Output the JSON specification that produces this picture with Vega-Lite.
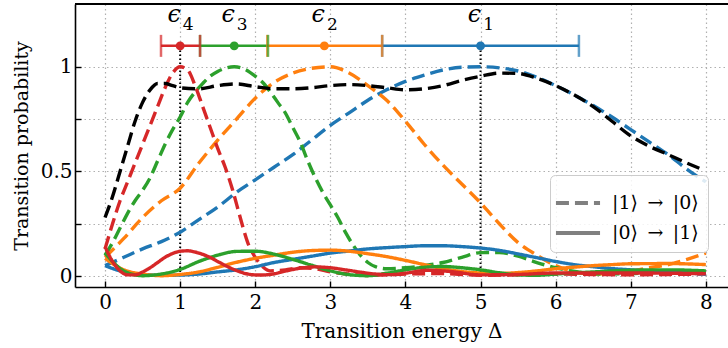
{
  "$schema": "https://vega.github.io/schema/vega-lite/v6.json",
  "width": 653,
  "height": 283,
  "autosize": {"type": "none"},
  "padding": {"left": 75, "top": 4, "right": 0, "bottom": 61},
  "config": {
    "font": "DejaVu Serif",
    "view": {"stroke": null},
    "axis": {
      "domain": true,
      "domainColor": "black",
      "domainWidth": 1.6,
      "grid": true,
      "gridColor": "#b0b0b0",
      "gridDash": [1.5, 3],
      "gridWidth": 1.2,
      "tickColor": "black",
      "tickWidth": 1.4,
      "tickSize": -6,
      "labelFontSize": 20,
      "labelColor": "black",
      "titleFontSize": 20,
      "titleFontWeight": "normal",
      "titleColor": "black",
      "labelFont": "DejaVu Serif",
      "titleFont": "DejaVu Serif"
    }
  },
  "datasets": {
    "curves": [
      {"series": "ε1", "kind": "|1⟩ → |0⟩", "x": 0, "y": 0.05},
      {"series": "ε1", "kind": "|1⟩ → |0⟩", "x": 0.25, "y": 0.09},
      {"series": "ε1", "kind": "|1⟩ → |0⟩", "x": 0.5, "y": 0.13},
      {"series": "ε1", "kind": "|1⟩ → |0⟩", "x": 0.75, "y": 0.165},
      {"series": "ε1", "kind": "|1⟩ → |0⟩", "x": 1.0, "y": 0.21},
      {"series": "ε1", "kind": "|1⟩ → |0⟩", "x": 1.25, "y": 0.27},
      {"series": "ε1", "kind": "|1⟩ → |0⟩", "x": 1.5, "y": 0.33},
      {"series": "ε1", "kind": "|1⟩ → |0⟩", "x": 1.75, "y": 0.4},
      {"series": "ε1", "kind": "|1⟩ → |0⟩", "x": 2.0, "y": 0.46},
      {"series": "ε1", "kind": "|1⟩ → |0⟩", "x": 2.25, "y": 0.52},
      {"series": "ε1", "kind": "|1⟩ → |0⟩", "x": 2.5, "y": 0.58},
      {"series": "ε1", "kind": "|1⟩ → |0⟩", "x": 2.75, "y": 0.65},
      {"series": "ε1", "kind": "|1⟩ → |0⟩", "x": 3.0, "y": 0.72},
      {"series": "ε1", "kind": "|1⟩ → |0⟩", "x": 3.25, "y": 0.78},
      {"series": "ε1", "kind": "|1⟩ → |0⟩", "x": 3.5, "y": 0.84},
      {"series": "ε1", "kind": "|1⟩ → |0⟩", "x": 3.75, "y": 0.89},
      {"series": "ε1", "kind": "|1⟩ → |0⟩", "x": 4.0, "y": 0.93},
      {"series": "ε1", "kind": "|1⟩ → |0⟩", "x": 4.25, "y": 0.96},
      {"series": "ε1", "kind": "|1⟩ → |0⟩", "x": 4.5, "y": 0.985},
      {"series": "ε1", "kind": "|1⟩ → |0⟩", "x": 4.75, "y": 0.998},
      {"series": "ε1", "kind": "|1⟩ → |0⟩", "x": 5.0, "y": 1.0},
      {"series": "ε1", "kind": "|1⟩ → |0⟩", "x": 5.25, "y": 0.995},
      {"series": "ε1", "kind": "|1⟩ → |0⟩", "x": 5.5, "y": 0.98},
      {"series": "ε1", "kind": "|1⟩ → |0⟩", "x": 5.75, "y": 0.95},
      {"series": "ε1", "kind": "|1⟩ → |0⟩", "x": 6.0, "y": 0.91},
      {"series": "ε1", "kind": "|1⟩ → |0⟩", "x": 6.25, "y": 0.865},
      {"series": "ε1", "kind": "|1⟩ → |0⟩", "x": 6.5, "y": 0.815},
      {"series": "ε1", "kind": "|1⟩ → |0⟩", "x": 6.75, "y": 0.76},
      {"series": "ε1", "kind": "|1⟩ → |0⟩", "x": 7.0, "y": 0.7},
      {"series": "ε1", "kind": "|1⟩ → |0⟩", "x": 7.25, "y": 0.64},
      {"series": "ε1", "kind": "|1⟩ → |0⟩", "x": 7.5, "y": 0.58},
      {"series": "ε1", "kind": "|1⟩ → |0⟩", "x": 7.75, "y": 0.51},
      {"series": "ε1", "kind": "|1⟩ → |0⟩", "x": 8.0, "y": 0.45},

      {"series": "ε2", "kind": "|1⟩ → |0⟩", "x": 0, "y": 0.09},
      {"series": "ε2", "kind": "|1⟩ → |0⟩", "x": 0.25, "y": 0.18},
      {"series": "ε2", "kind": "|1⟩ → |0⟩", "x": 0.5, "y": 0.28},
      {"series": "ε2", "kind": "|1⟩ → |0⟩", "x": 0.75, "y": 0.36},
      {"series": "ε2", "kind": "|1⟩ → |0⟩", "x": 1.0, "y": 0.42},
      {"series": "ε2", "kind": "|1⟩ → |0⟩", "x": 1.25, "y": 0.54},
      {"series": "ε2", "kind": "|1⟩ → |0⟩", "x": 1.5, "y": 0.65},
      {"series": "ε2", "kind": "|1⟩ → |0⟩", "x": 1.75, "y": 0.75},
      {"series": "ε2", "kind": "|1⟩ → |0⟩", "x": 2.0, "y": 0.85},
      {"series": "ε2", "kind": "|1⟩ → |0⟩", "x": 2.25, "y": 0.925},
      {"series": "ε2", "kind": "|1⟩ → |0⟩", "x": 2.5, "y": 0.97},
      {"series": "ε2", "kind": "|1⟩ → |0⟩", "x": 2.75, "y": 0.993},
      {"series": "ε2", "kind": "|1⟩ → |0⟩", "x": 3.0, "y": 1.0},
      {"series": "ε2", "kind": "|1⟩ → |0⟩", "x": 3.25, "y": 0.97},
      {"series": "ε2", "kind": "|1⟩ → |0⟩", "x": 3.5, "y": 0.91},
      {"series": "ε2", "kind": "|1⟩ → |0⟩", "x": 3.75, "y": 0.84},
      {"series": "ε2", "kind": "|1⟩ → |0⟩", "x": 4.0, "y": 0.74},
      {"series": "ε2", "kind": "|1⟩ → |0⟩", "x": 4.25, "y": 0.63},
      {"series": "ε2", "kind": "|1⟩ → |0⟩", "x": 4.5, "y": 0.53},
      {"series": "ε2", "kind": "|1⟩ → |0⟩", "x": 4.75, "y": 0.44},
      {"series": "ε2", "kind": "|1⟩ → |0⟩", "x": 5.0, "y": 0.35},
      {"series": "ε2", "kind": "|1⟩ → |0⟩", "x": 5.25, "y": 0.25},
      {"series": "ε2", "kind": "|1⟩ → |0⟩", "x": 5.5, "y": 0.16},
      {"series": "ε2", "kind": "|1⟩ → |0⟩", "x": 5.75, "y": 0.1},
      {"series": "ε2", "kind": "|1⟩ → |0⟩", "x": 6.0, "y": 0.05},
      {"series": "ε2", "kind": "|1⟩ → |0⟩", "x": 6.25, "y": 0.02},
      {"series": "ε2", "kind": "|1⟩ → |0⟩", "x": 6.5, "y": 0.01},
      {"series": "ε2", "kind": "|1⟩ → |0⟩", "x": 6.75, "y": 0.015},
      {"series": "ε2", "kind": "|1⟩ → |0⟩", "x": 7.0, "y": 0.025},
      {"series": "ε2", "kind": "|1⟩ → |0⟩", "x": 7.25, "y": 0.04},
      {"series": "ε2", "kind": "|1⟩ → |0⟩", "x": 7.5, "y": 0.055},
      {"series": "ε2", "kind": "|1⟩ → |0⟩", "x": 7.75, "y": 0.08},
      {"series": "ε2", "kind": "|1⟩ → |0⟩", "x": 8.0, "y": 0.11},

      {"series": "ε3", "kind": "|1⟩ → |0⟩", "x": 0, "y": 0.1},
      {"series": "ε3", "kind": "|1⟩ → |0⟩", "x": 0.1, "y": 0.16},
      {"series": "ε3", "kind": "|1⟩ → |0⟩", "x": 0.2, "y": 0.23},
      {"series": "ε3", "kind": "|1⟩ → |0⟩", "x": 0.3, "y": 0.3},
      {"series": "ε3", "kind": "|1⟩ → |0⟩", "x": 0.4, "y": 0.36},
      {"series": "ε3", "kind": "|1⟩ → |0⟩", "x": 0.5, "y": 0.41},
      {"series": "ε3", "kind": "|1⟩ → |0⟩", "x": 0.6, "y": 0.47},
      {"series": "ε3", "kind": "|1⟩ → |0⟩", "x": 0.7, "y": 0.55},
      {"series": "ε3", "kind": "|1⟩ → |0⟩", "x": 0.8, "y": 0.63},
      {"series": "ε3", "kind": "|1⟩ → |0⟩", "x": 0.9, "y": 0.7},
      {"series": "ε3", "kind": "|1⟩ → |0⟩", "x": 1.0, "y": 0.76},
      {"series": "ε3", "kind": "|1⟩ → |0⟩", "x": 1.1, "y": 0.83},
      {"series": "ε3", "kind": "|1⟩ → |0⟩", "x": 1.2, "y": 0.88},
      {"series": "ε3", "kind": "|1⟩ → |0⟩", "x": 1.3, "y": 0.92},
      {"series": "ε3", "kind": "|1⟩ → |0⟩", "x": 1.4, "y": 0.955},
      {"series": "ε3", "kind": "|1⟩ → |0⟩", "x": 1.5, "y": 0.978},
      {"series": "ε3", "kind": "|1⟩ → |0⟩", "x": 1.6, "y": 0.993},
      {"series": "ε3", "kind": "|1⟩ → |0⟩", "x": 1.72, "y": 1.0},
      {"series": "ε3", "kind": "|1⟩ → |0⟩", "x": 1.85, "y": 0.99},
      {"series": "ε3", "kind": "|1⟩ → |0⟩", "x": 2.0, "y": 0.955},
      {"series": "ε3", "kind": "|1⟩ → |0⟩", "x": 2.1, "y": 0.925},
      {"series": "ε3", "kind": "|1⟩ → |0⟩", "x": 2.2, "y": 0.88},
      {"series": "ε3", "kind": "|1⟩ → |0⟩", "x": 2.3, "y": 0.83},
      {"series": "ε3", "kind": "|1⟩ → |0⟩", "x": 2.4, "y": 0.78},
      {"series": "ε3", "kind": "|1⟩ → |0⟩", "x": 2.5, "y": 0.71},
      {"series": "ε3", "kind": "|1⟩ → |0⟩", "x": 2.6, "y": 0.64},
      {"series": "ε3", "kind": "|1⟩ → |0⟩", "x": 2.7, "y": 0.55},
      {"series": "ε3", "kind": "|1⟩ → |0⟩", "x": 2.8, "y": 0.47},
      {"series": "ε3", "kind": "|1⟩ → |0⟩", "x": 2.9, "y": 0.4},
      {"series": "ε3", "kind": "|1⟩ → |0⟩", "x": 3.0, "y": 0.34},
      {"series": "ε3", "kind": "|1⟩ → |0⟩", "x": 3.1, "y": 0.28},
      {"series": "ε3", "kind": "|1⟩ → |0⟩", "x": 3.2, "y": 0.21},
      {"series": "ε3", "kind": "|1⟩ → |0⟩", "x": 3.3, "y": 0.15},
      {"series": "ε3", "kind": "|1⟩ → |0⟩", "x": 3.4, "y": 0.1},
      {"series": "ε3", "kind": "|1⟩ → |0⟩", "x": 3.5, "y": 0.065},
      {"series": "ε3", "kind": "|1⟩ → |0⟩", "x": 3.6, "y": 0.045},
      {"series": "ε3", "kind": "|1⟩ → |0⟩", "x": 3.75, "y": 0.035},
      {"series": "ε3", "kind": "|1⟩ → |0⟩", "x": 4.0, "y": 0.04},
      {"series": "ε3", "kind": "|1⟩ → |0⟩", "x": 4.25, "y": 0.05},
      {"series": "ε3", "kind": "|1⟩ → |0⟩", "x": 4.5, "y": 0.065},
      {"series": "ε3", "kind": "|1⟩ → |0⟩", "x": 4.75, "y": 0.09},
      {"series": "ε3", "kind": "|1⟩ → |0⟩", "x": 5.0, "y": 0.112},
      {"series": "ε3", "kind": "|1⟩ → |0⟩", "x": 5.25, "y": 0.113},
      {"series": "ε3", "kind": "|1⟩ → |0⟩", "x": 5.5, "y": 0.095},
      {"series": "ε3", "kind": "|1⟩ → |0⟩", "x": 5.75, "y": 0.065},
      {"series": "ε3", "kind": "|1⟩ → |0⟩", "x": 6.0, "y": 0.04},
      {"series": "ε3", "kind": "|1⟩ → |0⟩", "x": 6.3, "y": 0.02},
      {"series": "ε3", "kind": "|1⟩ → |0⟩", "x": 6.6, "y": 0.01},
      {"series": "ε3", "kind": "|1⟩ → |0⟩", "x": 7.0, "y": 0.012},
      {"series": "ε3", "kind": "|1⟩ → |0⟩", "x": 7.5, "y": 0.02},
      {"series": "ε3", "kind": "|1⟩ → |0⟩", "x": 8.0, "y": 0.02},

      {"series": "ε4", "kind": "|1⟩ → |0⟩", "x": 0, "y": 0.13},
      {"series": "ε4", "kind": "|1⟩ → |0⟩", "x": 0.1, "y": 0.25},
      {"series": "ε4", "kind": "|1⟩ → |0⟩", "x": 0.2, "y": 0.36},
      {"series": "ε4", "kind": "|1⟩ → |0⟩", "x": 0.3, "y": 0.45},
      {"series": "ε4", "kind": "|1⟩ → |0⟩", "x": 0.4, "y": 0.54},
      {"series": "ε4", "kind": "|1⟩ → |0⟩", "x": 0.5, "y": 0.63},
      {"series": "ε4", "kind": "|1⟩ → |0⟩", "x": 0.6, "y": 0.72},
      {"series": "ε4", "kind": "|1⟩ → |0⟩", "x": 0.7, "y": 0.81},
      {"series": "ε4", "kind": "|1⟩ → |0⟩", "x": 0.8, "y": 0.9},
      {"series": "ε4", "kind": "|1⟩ → |0⟩", "x": 0.9, "y": 0.97},
      {"series": "ε4", "kind": "|1⟩ → |0⟩", "x": 1.0, "y": 1.0},
      {"series": "ε4", "kind": "|1⟩ → |0⟩", "x": 1.1, "y": 0.985},
      {"series": "ε4", "kind": "|1⟩ → |0⟩", "x": 1.2, "y": 0.91},
      {"series": "ε4", "kind": "|1⟩ → |0⟩", "x": 1.3, "y": 0.81},
      {"series": "ε4", "kind": "|1⟩ → |0⟩", "x": 1.4, "y": 0.71},
      {"series": "ε4", "kind": "|1⟩ → |0⟩", "x": 1.5, "y": 0.61},
      {"series": "ε4", "kind": "|1⟩ → |0⟩", "x": 1.6, "y": 0.52},
      {"series": "ε4", "kind": "|1⟩ → |0⟩", "x": 1.7, "y": 0.41},
      {"series": "ε4", "kind": "|1⟩ → |0⟩", "x": 1.8, "y": 0.28},
      {"series": "ε4", "kind": "|1⟩ → |0⟩", "x": 1.9, "y": 0.16},
      {"series": "ε4", "kind": "|1⟩ → |0⟩", "x": 2.0, "y": 0.09},
      {"series": "ε4", "kind": "|1⟩ → |0⟩", "x": 2.1, "y": 0.045},
      {"series": "ε4", "kind": "|1⟩ → |0⟩", "x": 2.2, "y": 0.025},
      {"series": "ε4", "kind": "|1⟩ → |0⟩", "x": 2.4, "y": 0.03},
      {"series": "ε4", "kind": "|1⟩ → |0⟩", "x": 2.6, "y": 0.04},
      {"series": "ε4", "kind": "|1⟩ → |0⟩", "x": 2.8, "y": 0.035},
      {"series": "ε4", "kind": "|1⟩ → |0⟩", "x": 3.0, "y": 0.02},
      {"series": "ε4", "kind": "|1⟩ → |0⟩", "x": 3.25, "y": 0.01},
      {"series": "ε4", "kind": "|1⟩ → |0⟩", "x": 3.5, "y": 0.003},
      {"series": "ε4", "kind": "|1⟩ → |0⟩", "x": 4.0, "y": 0.01},
      {"series": "ε4", "kind": "|1⟩ → |0⟩", "x": 4.5, "y": 0.012},
      {"series": "ε4", "kind": "|1⟩ → |0⟩", "x": 5.0, "y": 0.004},
      {"series": "ε4", "kind": "|1⟩ → |0⟩", "x": 5.5, "y": 0.006},
      {"series": "ε4", "kind": "|1⟩ → |0⟩", "x": 6.0, "y": 0.01},
      {"series": "ε4", "kind": "|1⟩ → |0⟩", "x": 6.5, "y": 0.008},
      {"series": "ε4", "kind": "|1⟩ → |0⟩", "x": 7.0, "y": 0.006},
      {"series": "ε4", "kind": "|1⟩ → |0⟩", "x": 7.5, "y": 0.008},
      {"series": "ε4", "kind": "|1⟩ → |0⟩", "x": 8.0, "y": 0.01},

      {"series": "sum", "kind": "|1⟩ → |0⟩", "x": 0, "y": 0.28},
      {"series": "sum", "kind": "|1⟩ → |0⟩", "x": 0.1, "y": 0.38},
      {"series": "sum", "kind": "|1⟩ → |0⟩", "x": 0.2, "y": 0.5},
      {"series": "sum", "kind": "|1⟩ → |0⟩", "x": 0.3, "y": 0.62},
      {"series": "sum", "kind": "|1⟩ → |0⟩", "x": 0.4, "y": 0.74},
      {"series": "sum", "kind": "|1⟩ → |0⟩", "x": 0.5, "y": 0.83},
      {"series": "sum", "kind": "|1⟩ → |0⟩", "x": 0.6, "y": 0.89},
      {"series": "sum", "kind": "|1⟩ → |0⟩", "x": 0.7, "y": 0.92},
      {"series": "sum", "kind": "|1⟩ → |0⟩", "x": 0.8, "y": 0.92},
      {"series": "sum", "kind": "|1⟩ → |0⟩", "x": 0.9, "y": 0.91},
      {"series": "sum", "kind": "|1⟩ → |0⟩", "x": 1.0, "y": 0.9},
      {"series": "sum", "kind": "|1⟩ → |0⟩", "x": 1.25, "y": 0.895},
      {"series": "sum", "kind": "|1⟩ → |0⟩", "x": 1.5, "y": 0.91},
      {"series": "sum", "kind": "|1⟩ → |0⟩", "x": 1.75, "y": 0.918},
      {"series": "sum", "kind": "|1⟩ → |0⟩", "x": 2.0, "y": 0.905},
      {"series": "sum", "kind": "|1⟩ → |0⟩", "x": 2.25, "y": 0.895},
      {"series": "sum", "kind": "|1⟩ → |0⟩", "x": 2.5, "y": 0.895},
      {"series": "sum", "kind": "|1⟩ → |0⟩", "x": 2.75, "y": 0.9},
      {"series": "sum", "kind": "|1⟩ → |0⟩", "x": 3.0, "y": 0.91},
      {"series": "sum", "kind": "|1⟩ → |0⟩", "x": 3.25, "y": 0.915},
      {"series": "sum", "kind": "|1⟩ → |0⟩", "x": 3.5, "y": 0.91},
      {"series": "sum", "kind": "|1⟩ → |0⟩", "x": 3.75, "y": 0.9},
      {"series": "sum", "kind": "|1⟩ → |0⟩", "x": 4.0, "y": 0.89},
      {"series": "sum", "kind": "|1⟩ → |0⟩", "x": 4.25, "y": 0.895},
      {"series": "sum", "kind": "|1⟩ → |0⟩", "x": 4.5, "y": 0.91},
      {"series": "sum", "kind": "|1⟩ → |0⟩", "x": 4.75, "y": 0.935},
      {"series": "sum", "kind": "|1⟩ → |0⟩", "x": 5.0, "y": 0.955},
      {"series": "sum", "kind": "|1⟩ → |0⟩", "x": 5.25, "y": 0.97},
      {"series": "sum", "kind": "|1⟩ → |0⟩", "x": 5.5, "y": 0.968},
      {"series": "sum", "kind": "|1⟩ → |0⟩", "x": 5.75, "y": 0.945},
      {"series": "sum", "kind": "|1⟩ → |0⟩", "x": 6.0, "y": 0.91},
      {"series": "sum", "kind": "|1⟩ → |0⟩", "x": 6.25, "y": 0.865},
      {"series": "sum", "kind": "|1⟩ → |0⟩", "x": 6.5, "y": 0.81},
      {"series": "sum", "kind": "|1⟩ → |0⟩", "x": 6.75, "y": 0.74},
      {"series": "sum", "kind": "|1⟩ → |0⟩", "x": 7.0, "y": 0.67},
      {"series": "sum", "kind": "|1⟩ → |0⟩", "x": 7.25, "y": 0.62},
      {"series": "sum", "kind": "|1⟩ → |0⟩", "x": 7.5, "y": 0.58},
      {"series": "sum", "kind": "|1⟩ → |0⟩", "x": 7.75, "y": 0.54},
      {"series": "sum", "kind": "|1⟩ → |0⟩", "x": 7.95, "y": 0.51},

      {"series": "ε1", "kind": "|0⟩ → |1⟩", "x": 0, "y": 0.05},
      {"series": "ε1", "kind": "|0⟩ → |1⟩", "x": 0.25, "y": 0.02},
      {"series": "ε1", "kind": "|0⟩ → |1⟩", "x": 0.5, "y": 0.008},
      {"series": "ε1", "kind": "|0⟩ → |1⟩", "x": 0.75, "y": 0.004},
      {"series": "ε1", "kind": "|0⟩ → |1⟩", "x": 1.0, "y": 0.005},
      {"series": "ε1", "kind": "|0⟩ → |1⟩", "x": 1.25, "y": 0.01},
      {"series": "ε1", "kind": "|0⟩ → |1⟩", "x": 1.5, "y": 0.02},
      {"series": "ε1", "kind": "|0⟩ → |1⟩", "x": 1.75, "y": 0.03},
      {"series": "ε1", "kind": "|0⟩ → |1⟩", "x": 2.0, "y": 0.045},
      {"series": "ε1", "kind": "|0⟩ → |1⟩", "x": 2.25, "y": 0.065},
      {"series": "ε1", "kind": "|0⟩ → |1⟩", "x": 2.5, "y": 0.08},
      {"series": "ε1", "kind": "|0⟩ → |1⟩", "x": 2.75, "y": 0.095},
      {"series": "ε1", "kind": "|0⟩ → |1⟩", "x": 3.0, "y": 0.11},
      {"series": "ε1", "kind": "|0⟩ → |1⟩", "x": 3.25, "y": 0.12},
      {"series": "ε1", "kind": "|0⟩ → |1⟩", "x": 3.5, "y": 0.13},
      {"series": "ε1", "kind": "|0⟩ → |1⟩", "x": 3.75, "y": 0.136},
      {"series": "ε1", "kind": "|0⟩ → |1⟩", "x": 4.0, "y": 0.141},
      {"series": "ε1", "kind": "|0⟩ → |1⟩", "x": 4.25, "y": 0.145},
      {"series": "ε1", "kind": "|0⟩ → |1⟩", "x": 4.5, "y": 0.145},
      {"series": "ε1", "kind": "|0⟩ → |1⟩", "x": 4.75, "y": 0.141},
      {"series": "ε1", "kind": "|0⟩ → |1⟩", "x": 5.0, "y": 0.134},
      {"series": "ε1", "kind": "|0⟩ → |1⟩", "x": 5.25, "y": 0.123},
      {"series": "ε1", "kind": "|0⟩ → |1⟩", "x": 5.5, "y": 0.106},
      {"series": "ε1", "kind": "|0⟩ → |1⟩", "x": 5.75, "y": 0.088},
      {"series": "ε1", "kind": "|0⟩ → |1⟩", "x": 6.0, "y": 0.07},
      {"series": "ε1", "kind": "|0⟩ → |1⟩", "x": 6.25, "y": 0.055},
      {"series": "ε1", "kind": "|0⟩ → |1⟩", "x": 6.5, "y": 0.045},
      {"series": "ε1", "kind": "|0⟩ → |1⟩", "x": 6.75, "y": 0.036},
      {"series": "ε1", "kind": "|0⟩ → |1⟩", "x": 7.0, "y": 0.03},
      {"series": "ε1", "kind": "|0⟩ → |1⟩", "x": 7.5, "y": 0.02},
      {"series": "ε1", "kind": "|0⟩ → |1⟩", "x": 8.0, "y": 0.01},

      {"series": "ε2", "kind": "|0⟩ → |1⟩", "x": 0, "y": 0.085},
      {"series": "ε2", "kind": "|0⟩ → |1⟩", "x": 0.25, "y": 0.03},
      {"series": "ε2", "kind": "|0⟩ → |1⟩", "x": 0.5, "y": 0.01},
      {"series": "ε2", "kind": "|0⟩ → |1⟩", "x": 0.75, "y": 0.002},
      {"series": "ε2", "kind": "|0⟩ → |1⟩", "x": 1.0, "y": 0.008},
      {"series": "ε2", "kind": "|0⟩ → |1⟩", "x": 1.25, "y": 0.02},
      {"series": "ε2", "kind": "|0⟩ → |1⟩", "x": 1.5, "y": 0.042},
      {"series": "ε2", "kind": "|0⟩ → |1⟩", "x": 1.75, "y": 0.066},
      {"series": "ε2", "kind": "|0⟩ → |1⟩", "x": 2.0, "y": 0.085},
      {"series": "ε2", "kind": "|0⟩ → |1⟩", "x": 2.25, "y": 0.1},
      {"series": "ε2", "kind": "|0⟩ → |1⟩", "x": 2.5, "y": 0.114},
      {"series": "ε2", "kind": "|0⟩ → |1⟩", "x": 2.75, "y": 0.122},
      {"series": "ε2", "kind": "|0⟩ → |1⟩", "x": 3.0, "y": 0.124},
      {"series": "ε2", "kind": "|0⟩ → |1⟩", "x": 3.25, "y": 0.119},
      {"series": "ε2", "kind": "|0⟩ → |1⟩", "x": 3.5, "y": 0.107},
      {"series": "ε2", "kind": "|0⟩ → |1⟩", "x": 3.75, "y": 0.093},
      {"series": "ε2", "kind": "|0⟩ → |1⟩", "x": 4.0, "y": 0.075},
      {"series": "ε2", "kind": "|0⟩ → |1⟩", "x": 4.25, "y": 0.055},
      {"series": "ε2", "kind": "|0⟩ → |1⟩", "x": 4.5, "y": 0.036},
      {"series": "ε2", "kind": "|0⟩ → |1⟩", "x": 4.75, "y": 0.022},
      {"series": "ε2", "kind": "|0⟩ → |1⟩", "x": 5.0, "y": 0.015},
      {"series": "ε2", "kind": "|0⟩ → |1⟩", "x": 5.25, "y": 0.013},
      {"series": "ε2", "kind": "|0⟩ → |1⟩", "x": 5.5, "y": 0.017},
      {"series": "ε2", "kind": "|0⟩ → |1⟩", "x": 5.75, "y": 0.025},
      {"series": "ε2", "kind": "|0⟩ → |1⟩", "x": 6.0, "y": 0.035},
      {"series": "ε2", "kind": "|0⟩ → |1⟩", "x": 6.25, "y": 0.043},
      {"series": "ε2", "kind": "|0⟩ → |1⟩", "x": 6.5, "y": 0.05},
      {"series": "ε2", "kind": "|0⟩ → |1⟩", "x": 6.75, "y": 0.055},
      {"series": "ε2", "kind": "|0⟩ → |1⟩", "x": 7.0, "y": 0.059},
      {"series": "ε2", "kind": "|0⟩ → |1⟩", "x": 7.5, "y": 0.06},
      {"series": "ε2", "kind": "|0⟩ → |1⟩", "x": 8.0, "y": 0.055},

      {"series": "ε3", "kind": "|0⟩ → |1⟩", "x": 0, "y": 0.11},
      {"series": "ε3", "kind": "|0⟩ → |1⟩", "x": 0.1, "y": 0.07},
      {"series": "ε3", "kind": "|0⟩ → |1⟩", "x": 0.2, "y": 0.036},
      {"series": "ε3", "kind": "|0⟩ → |1⟩", "x": 0.35, "y": 0.01},
      {"series": "ε3", "kind": "|0⟩ → |1⟩", "x": 0.5, "y": 0.002},
      {"series": "ε3", "kind": "|0⟩ → |1⟩", "x": 0.75, "y": 0.01},
      {"series": "ε3", "kind": "|0⟩ → |1⟩", "x": 1.0, "y": 0.032},
      {"series": "ε3", "kind": "|0⟩ → |1⟩", "x": 1.25, "y": 0.07},
      {"series": "ε3", "kind": "|0⟩ → |1⟩", "x": 1.5, "y": 0.1},
      {"series": "ε3", "kind": "|0⟩ → |1⟩", "x": 1.75, "y": 0.118},
      {"series": "ε3", "kind": "|0⟩ → |1⟩", "x": 2.0, "y": 0.119},
      {"series": "ε3", "kind": "|0⟩ → |1⟩", "x": 2.25, "y": 0.105},
      {"series": "ε3", "kind": "|0⟩ → |1⟩", "x": 2.5, "y": 0.08},
      {"series": "ε3", "kind": "|0⟩ → |1⟩", "x": 2.75, "y": 0.052},
      {"series": "ε3", "kind": "|0⟩ → |1⟩", "x": 3.0, "y": 0.025},
      {"series": "ε3", "kind": "|0⟩ → |1⟩", "x": 3.25, "y": 0.007},
      {"series": "ε3", "kind": "|0⟩ → |1⟩", "x": 3.5, "y": 0.002},
      {"series": "ε3", "kind": "|0⟩ → |1⟩", "x": 3.75, "y": 0.014},
      {"series": "ε3", "kind": "|0⟩ → |1⟩", "x": 4.0, "y": 0.03},
      {"series": "ε3", "kind": "|0⟩ → |1⟩", "x": 4.25, "y": 0.042},
      {"series": "ε3", "kind": "|0⟩ → |1⟩", "x": 4.5, "y": 0.046},
      {"series": "ε3", "kind": "|0⟩ → |1⟩", "x": 4.75, "y": 0.04},
      {"series": "ε3", "kind": "|0⟩ → |1⟩", "x": 5.0, "y": 0.03},
      {"series": "ε3", "kind": "|0⟩ → |1⟩", "x": 5.25, "y": 0.016},
      {"series": "ε3", "kind": "|0⟩ → |1⟩", "x": 5.5, "y": 0.006},
      {"series": "ε3", "kind": "|0⟩ → |1⟩", "x": 5.75, "y": 0.004},
      {"series": "ε3", "kind": "|0⟩ → |1⟩", "x": 6.0, "y": 0.01},
      {"series": "ε3", "kind": "|0⟩ → |1⟩", "x": 6.5, "y": 0.02},
      {"series": "ε3", "kind": "|0⟩ → |1⟩", "x": 7.0, "y": 0.028},
      {"series": "ε3", "kind": "|0⟩ → |1⟩", "x": 7.5, "y": 0.03},
      {"series": "ε3", "kind": "|0⟩ → |1⟩", "x": 8.0, "y": 0.025},

      {"series": "ε4", "kind": "|0⟩ → |1⟩", "x": 0, "y": 0.14},
      {"series": "ε4", "kind": "|0⟩ → |1⟩", "x": 0.1, "y": 0.07},
      {"series": "ε4", "kind": "|0⟩ → |1⟩", "x": 0.2, "y": 0.025},
      {"series": "ε4", "kind": "|0⟩ → |1⟩", "x": 0.3, "y": 0.006},
      {"series": "ε4", "kind": "|0⟩ → |1⟩", "x": 0.4, "y": 0.006},
      {"series": "ε4", "kind": "|0⟩ → |1⟩", "x": 0.5, "y": 0.02},
      {"series": "ε4", "kind": "|0⟩ → |1⟩", "x": 0.6, "y": 0.04},
      {"series": "ε4", "kind": "|0⟩ → |1⟩", "x": 0.7, "y": 0.065},
      {"series": "ε4", "kind": "|0⟩ → |1⟩", "x": 0.8, "y": 0.09},
      {"series": "ε4", "kind": "|0⟩ → |1⟩", "x": 0.9, "y": 0.108},
      {"series": "ε4", "kind": "|0⟩ → |1⟩", "x": 1.0, "y": 0.119},
      {"series": "ε4", "kind": "|0⟩ → |1⟩", "x": 1.1, "y": 0.121},
      {"series": "ε4", "kind": "|0⟩ → |1⟩", "x": 1.2, "y": 0.115},
      {"series": "ε4", "kind": "|0⟩ → |1⟩", "x": 1.3, "y": 0.104},
      {"series": "ε4", "kind": "|0⟩ → |1⟩", "x": 1.4, "y": 0.089},
      {"series": "ε4", "kind": "|0⟩ → |1⟩", "x": 1.5, "y": 0.07},
      {"series": "ε4", "kind": "|0⟩ → |1⟩", "x": 1.6, "y": 0.051},
      {"series": "ε4", "kind": "|0⟩ → |1⟩", "x": 1.7, "y": 0.034},
      {"series": "ε4", "kind": "|0⟩ → |1⟩", "x": 1.8, "y": 0.02},
      {"series": "ε4", "kind": "|0⟩ → |1⟩", "x": 1.9, "y": 0.01},
      {"series": "ε4", "kind": "|0⟩ → |1⟩", "x": 2.05, "y": 0.005},
      {"series": "ε4", "kind": "|0⟩ → |1⟩", "x": 2.2, "y": 0.008},
      {"series": "ε4", "kind": "|0⟩ → |1⟩", "x": 2.4, "y": 0.024},
      {"series": "ε4", "kind": "|0⟩ → |1⟩", "x": 2.6, "y": 0.038},
      {"series": "ε4", "kind": "|0⟩ → |1⟩", "x": 2.8, "y": 0.044},
      {"series": "ε4", "kind": "|0⟩ → |1⟩", "x": 3.0, "y": 0.04},
      {"series": "ε4", "kind": "|0⟩ → |1⟩", "x": 3.2, "y": 0.03},
      {"series": "ε4", "kind": "|0⟩ → |1⟩", "x": 3.4, "y": 0.019},
      {"series": "ε4", "kind": "|0⟩ → |1⟩", "x": 3.6, "y": 0.01},
      {"series": "ε4", "kind": "|0⟩ → |1⟩", "x": 3.8, "y": 0.007},
      {"series": "ε4", "kind": "|0⟩ → |1⟩", "x": 4.0, "y": 0.014},
      {"series": "ε4", "kind": "|0⟩ → |1⟩", "x": 4.3, "y": 0.028},
      {"series": "ε4", "kind": "|0⟩ → |1⟩", "x": 4.6, "y": 0.022},
      {"series": "ε4", "kind": "|0⟩ → |1⟩", "x": 5.0, "y": 0.006},
      {"series": "ε4", "kind": "|0⟩ → |1⟩", "x": 5.5, "y": 0.008},
      {"series": "ε4", "kind": "|0⟩ → |1⟩", "x": 6.0, "y": 0.015},
      {"series": "ε4", "kind": "|0⟩ → |1⟩", "x": 6.5, "y": 0.015},
      {"series": "ε4", "kind": "|0⟩ → |1⟩", "x": 7.0, "y": 0.015},
      {"series": "ε4", "kind": "|0⟩ → |1⟩", "x": 7.5, "y": 0.014},
      {"series": "ε4", "kind": "|0⟩ → |1⟩", "x": 8.0, "y": 0.012}
    ],
    "bands": [
      {"series": "ε1", "sym": "ϵ", "sub": "1", "center": 5.0, "lo": 3.69, "hi": 6.31},
      {"series": "ε2", "sym": "ϵ", "sub": "2", "center": 2.92, "lo": 2.16, "hi": 3.69},
      {"series": "ε3", "sym": "ϵ", "sub": "3", "center": 1.72, "lo": 1.265, "hi": 2.17},
      {"series": "ε4", "sym": "ϵ", "sub": "4", "center": 1.0, "lo": 0.745, "hi": 1.265}
    ],
    "guides": [{"x": 1.0}, {"x": 5.0}]
  },
  "layer": [
    {
      "data": {"name": "guides"},
      "mark": {"type": "rule", "color": "black", "strokeWidth": 2, "strokeDash": [1.5, 2.5]},
      "encoding": {
        "x": {"field": "x", "type": "quantitative", "scale": {"domain": [-0.4, 8.295], "nice": false, "zero": false},
              "axis": {"values": [0, 1, 2, 3, 4, 5, 6, 7, 8], "format": "d", "title": "Transition energy Δ", "titleFontSize": 20, "labelPadding": 11, "titlePadding": 9}},
        "y": {"datum": 0, "type": "quantitative", "scale": {"domain": [-0.052, 1.3], "nice": false, "zero": false},
              "axis": {"values": [0, 0.25, 0.5, 0.75, 1], "format": "~g", "labelExpr": "datum.value == 0.25 || datum.value == 0.75 ? '' : datum.label", "title": "Transition probability", "titleFontSize": 19, "labelPadding": 9, "titlePadding": 9}},
        "y2": {"datum": 1.1}
      }
    },
    {
      "data": {"name": "guides"},
      "mark": {"type": "rule", "color": "black", "strokeWidth": 2},
      "encoding": {"y": {"datum": 1.3}}
    },
    {
      "data": {"name": "curves"},
      "transform": [{"filter": "datum.kind == '|1⟩ → |0⟩'"}],
      "mark": {"type": "line", "strokeWidth": 3.4, "interpolate": "monotone"},
      "encoding": {
        "x": {"field": "x", "type": "quantitative"},
        "y": {"field": "y", "type": "quantitative"},
        "color": {"field": "series", "type": "nominal", "scale": {"domain": ["ε1", "ε2", "ε3", "ε4", "sum"], "range": ["#1f77b4", "#ff7f0e", "#2ca02c", "#d62728", "#000000"]}, "legend": null},
        "strokeDash": {"field": "kind", "type": "nominal", "scale": {"domain": ["|1⟩ → |0⟩", "|0⟩ → |1⟩"], "range": [[13, 6], [1, 0]]},
          "legend": {"title": null, "orient": "none", "legendX": 475, "legendY": 171, "fillColor": "rgba(255,255,255,0.85)", "strokeColor": "#cccccc", "cornerRadius": 5, "padding": 9, "symbolType": "M-1.3,0H1.3", "symbolSize": 1150, "symbolStrokeWidth": 4, "symbolStrokeColor": "#808080", "symbolOpacity": 1, "labelFontSize": 19, "labelFont": "DejaVu Serif", "labelOffset": 15, "rowPadding": 1, "labelColor": "black", "labelExpr": "replace(datum.label, ' → ', '\u2002→\u2002')"}}
      }
    },
    {
      "data": {"name": "curves"},
      "transform": [{"filter": "datum.kind == '|0⟩ → |1⟩'"}],
      "mark": {"type": "line", "strokeWidth": 3.4, "interpolate": "monotone"},
      "encoding": {
        "x": {"field": "x", "type": "quantitative"},
        "y": {"field": "y", "type": "quantitative"},
        "color": {"field": "series", "type": "nominal", "legend": null},
        "strokeDash": {"field": "kind", "type": "nominal"}
      }
    },
    {
      "data": {"name": "bands"},
      "mark": {"type": "rule", "strokeWidth": 2.5},
      "encoding": {
        "x": {"field": "lo", "type": "quantitative"},
        "x2": {"field": "hi"},
        "y": {"datum": 1.1},
        "color": {"field": "series", "type": "nominal", "legend": null}
      }
    },
    {
      "data": {"name": "bands"},
      "mark": {"type": "tick", "orient": "vertical", "size": 22, "thickness": 2.5},
      "encoding": {
        "x": {"field": "lo", "type": "quantitative"},
        "y": {"datum": 1.1},
        "color": {"field": "series", "type": "nominal", "legend": null}
      }
    },
    {
      "data": {"name": "bands"},
      "mark": {"type": "tick", "orient": "vertical", "size": 22, "thickness": 2.5},
      "encoding": {
        "x": {"field": "hi", "type": "quantitative"},
        "y": {"datum": 1.1},
        "color": {"field": "series", "type": "nominal", "legend": null}
      }
    },
    {
      "data": {"name": "bands"},
      "mark": {"type": "point", "filled": true, "size": 80, "opacity": 1},
      "encoding": {
        "x": {"field": "center", "type": "quantitative"},
        "y": {"datum": 1.1},
        "color": {"field": "series", "type": "nominal", "legend": null}
      }
    },
    {
      "data": {"name": "bands"},
      "mark": {"type": "text", "fontSize": 24, "font": "DejaVu Serif", "fontStyle": "italic", "color": "black", "dx": -6, "dy": -24, "baseline": "alphabetic", "align": "center"},
      "encoding": {
        "x": {"field": "center", "type": "quantitative"},
        "y": {"datum": 1.1},
        "text": {"field": "sym"}
      }
    },
    {
      "data": {"name": "bands"},
      "mark": {"type": "text", "fontSize": 17, "font": "DejaVu Serif", "color": "black", "dx": 8, "dy": -16, "baseline": "alphabetic", "align": "center"},
      "encoding": {
        "x": {"field": "center", "type": "quantitative"},
        "y": {"datum": 1.1},
        "text": {"field": "sub"}
      }
    }
  ]
}
